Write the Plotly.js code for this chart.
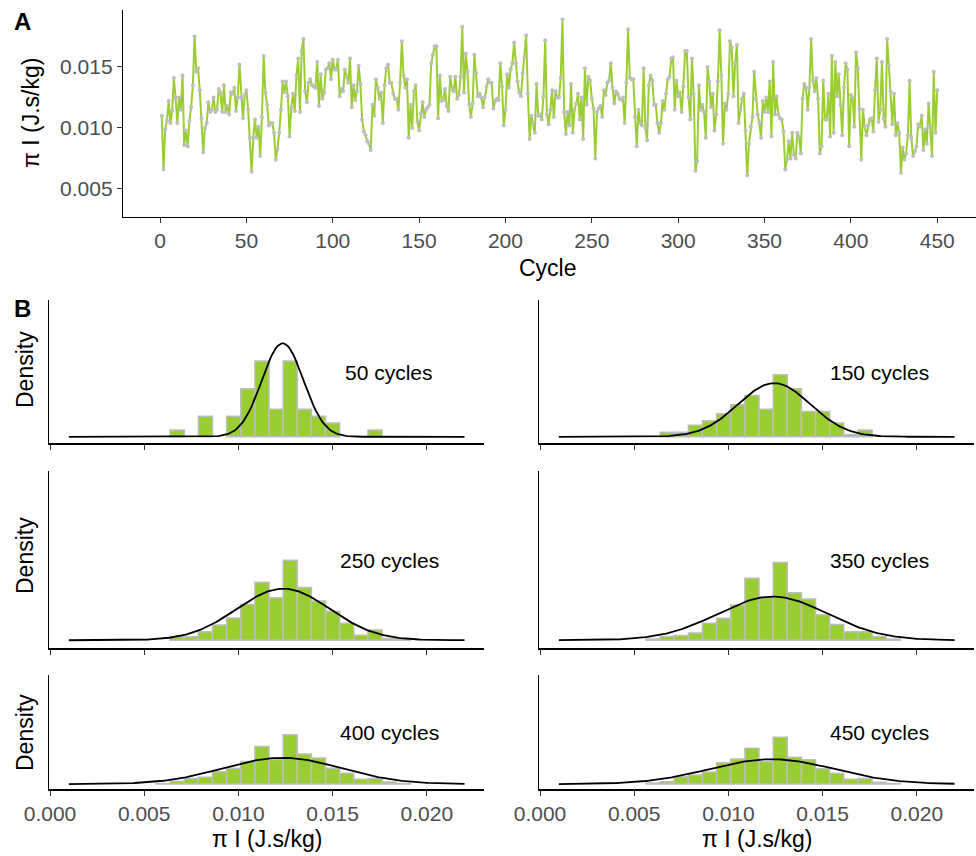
<!DOCTYPE html>
<html><head><meta charset="utf-8">
<script src="https://cdn.plot.ly/plotly-3.0.1.min.js"></script>
<style>html,body{margin:0;padding:0;background:#fff}</style>
</head><body><div id="chart" style="width:976px;height:856px"></div>
<script>
// Panel A: pi I (J.s/kg) for cycles 1..450
const piI = [
0.0110,0.0066,0.0099,0.0106,0.0122,0.0104,0.0114,0.0141,0.0125,0.0104,
0.0125,0.0115,0.0143,0.0086,0.0098,0.0085,0.0106,0.0117,0.0135,0.0175,
0.0146,0.0149,0.0131,0.0108,0.0080,0.0100,0.0104,0.0121,0.0113,0.0115,
0.0125,0.0113,0.0115,0.0132,0.0129,0.0113,0.0135,0.0113,0.0118,0.0111,
0.0129,0.0128,0.0133,0.0114,0.0125,0.0152,0.0125,0.0108,0.0127,0.0131,
0.0115,0.0092,0.0064,0.0092,0.0107,0.0092,0.0101,0.0077,0.0109,0.0159,
0.0129,0.0119,0.0102,0.0104,0.0104,0.0096,0.0074,0.0083,0.0096,0.0115,
0.0138,0.0129,0.0138,0.0126,0.0093,0.0117,0.0128,0.0114,0.0143,0.0157,
0.0113,0.0163,0.0173,0.0130,0.0121,0.0137,0.0140,0.0135,0.0134,0.0133,
0.0154,0.0118,0.0144,0.0124,0.0129,0.0148,0.0149,0.0153,0.0140,0.0156,
0.0148,0.0148,0.0156,0.0126,0.0132,0.0130,0.0148,0.0142,0.0137,0.0157,
0.0117,0.0135,0.0123,0.0130,0.0151,0.0136,0.0107,0.0097,0.0094,0.0089,
0.0087,0.0082,0.0119,0.0110,0.0140,0.0133,0.0124,0.0129,0.0104,0.0135,
0.0149,0.0152,0.0137,0.0137,0.0128,0.0124,0.0124,0.0115,0.0137,0.0171,
0.0143,0.0133,0.0140,0.0092,0.0119,0.0100,0.0130,0.0135,0.0105,0.0098,
0.0112,0.0121,0.0109,0.0115,0.0117,0.0119,0.0153,0.0160,0.0167,0.0167,
0.0108,0.0143,0.0122,0.0123,0.0132,0.0118,0.0114,0.0142,0.0132,0.0130,
0.0142,0.0124,0.0127,0.0142,0.0183,0.0129,0.0161,0.0146,0.0119,0.0109,
0.0120,0.0160,0.0145,0.0126,0.0128,0.0125,0.0117,0.0125,0.0134,0.0140,
0.0137,0.0137,0.0116,0.0122,0.0124,0.0123,0.0153,0.0134,0.0102,0.0115,
0.0144,0.0133,0.0148,0.0153,0.0170,0.0153,0.0138,0.0129,0.0126,0.0145,
0.0158,0.0176,0.0128,0.0091,0.0110,0.0104,0.0096,0.0136,0.0110,0.0111,
0.0107,0.0126,0.0172,0.0111,0.0103,0.0115,0.0131,0.0109,0.0130,0.0125,
0.0125,0.0141,0.0189,0.0113,0.0095,0.0113,0.0102,0.0136,0.0096,0.0115,
0.0120,0.0128,0.0107,0.0125,0.0091,0.0149,0.0119,0.0142,0.0139,0.0124,
0.0116,0.0075,0.0113,0.0116,0.0118,0.0109,0.0131,0.0127,0.0137,0.0139,
0.0153,0.0133,0.0120,0.0130,0.0128,0.0124,0.0123,0.0125,0.0104,0.0137,
0.0181,0.0141,0.0140,0.0140,0.0109,0.0085,0.0115,0.0104,0.0102,0.0149,
0.0100,0.0090,0.0135,0.0143,0.0139,0.0119,0.0119,0.0104,0.0096,0.0104,
0.0122,0.0115,0.0128,0.0140,0.0142,0.0157,0.0158,0.0115,0.0139,0.0126,
0.0129,0.0113,0.0134,0.0163,0.0163,0.0125,0.0107,0.0157,0.0128,0.0065,
0.0073,0.0135,0.0115,0.0119,0.0113,0.0092,0.0150,0.0138,0.0117,0.0128,
0.0098,0.0111,0.0138,0.0180,0.0143,0.0087,0.0120,0.0115,0.0128,0.0171,
0.0166,0.0126,0.0153,0.0168,0.0104,0.0115,0.0124,0.0128,0.0098,0.0061,
0.0087,0.0101,0.0109,0.0146,0.0124,0.0111,0.0104,0.0092,0.0122,0.0113,
0.0125,0.0113,0.0138,0.0093,0.0154,0.0111,0.0126,0.0111,0.0108,0.0107,
0.0097,0.0066,0.0074,0.0089,0.0075,0.0096,0.0078,0.0075,0.0096,0.0093,
0.0079,0.0124,0.0136,0.0133,0.0115,0.0133,0.0173,0.0139,0.0130,0.0141,
0.0124,0.0079,0.0085,0.0139,0.0107,0.0107,0.0128,0.0093,0.0159,0.0096,
0.0154,0.0126,0.0144,0.0119,0.0094,0.0133,0.0153,0.0148,0.0085,0.0127,
0.0125,0.0101,0.0162,0.0149,0.0116,0.0074,0.0115,0.0101,0.0094,0.0102,
0.0107,0.0108,0.0097,0.0131,0.0157,0.0105,0.0115,0.0154,0.0108,0.0101,
0.0173,0.0151,0.0130,0.0103,0.0128,0.0094,0.0104,0.0096,0.0063,0.0084,
0.0074,0.0079,0.0094,0.0139,0.0092,0.0077,0.0081,0.0085,0.0103,0.0101,
0.0110,0.0082,0.0099,0.0087,0.0120,0.0101,0.0077,0.0146,0.0096,0.0131
];
const cycles = piI.map((_, i) => i + 1);

// Panel B: histograms of the first N cycles with fitted normal curves
const panelCycles = [50, 150, 250, 350, 400, 450];
const panelLabels = ["50 cycles", "150 cycles", "250 cycles", "350 cycles", "400 cycles", "450 cycles"];
const curveMean = [0.01235, 0.01243, 0.01238, 0.01235, 0.01233, 0.01232];
const curveSd = [0.00110, 0.00192, 0.00247, 0.00292, 0.00312, 0.00330];
const curveFrom = 0.001, curveTo = 0.022;
const binWidth = 0.00075;
const axATicks = [0, 50, 100, 150, 200, 250, 300, 350, 400, 450];
const axAYTicks = [0.005, 0.010, 0.015];
const axBTicks = [0.000, 0.005, 0.010, 0.015, 0.020];

const W = 976, H = 856;
const px = v => v / W, py = v => 1 - v / H;
const GREEN = '#9ACD32', GREY = '#BEBEBE', TXT = '#4D4D4D';
const FONT = 'Liberation Sans, Arial, sans-serif';
const TICK = 21, TITLE = 23, LABEL = 21;

const traces = [];
traces.push({
  x: cycles, y: piI, type: 'scatter', mode: 'lines+markers',
  line: {color: GREEN, width: 2}, marker: {color: GREY, size: 4},
  xaxis: 'x', yaxis: 'y', hoverinfo: 'skip'
});

// panel placement: [column, row]
const place = [[0,0],[1,0],[0,1],[1,1],[0,2],[1,2]];
const colX = [[49.06, 484.3], [539.06, 974.3]];
const rowY = [[300, 443.3], [471, 648.3], [675, 789.3]];

const layout = {
  width: W, height: H, margin: {l: 0, r: 0, t: 0, b: 0},
  paper_bgcolor: '#fff', plot_bgcolor: '#fff', showlegend: false,
  bargap: 0, barmode: 'overlay', font: {family: FONT, color: TXT},
  xaxis: {domain: [px(123), 1], range: [-21.45, 472.45], tickvals: axATicks,
    ticks: 'outside', ticklen: 5, tickcolor: '#333', showline: true, linecolor: '#000', linewidth: 1.2,
    showgrid: false, zeroline: false, tickfont: {size: TICK, color: TXT}, anchor: 'y'},
  yaxis: {domain: [py(217), py(10)], range: [0.0027, 0.01967], tickvals: axAYTicks,
    ticktext: axAYTicks.map(v => v.toFixed(3)),
    ticks: 'outside', ticklen: 5, tickcolor: '#333', showline: true, linecolor: '#000', linewidth: 1.2,
    showgrid: false, zeroline: false, tickfont: {size: TICK, color: TXT}, anchor: 'x'},
  annotations: [], shapes: []
};

const nPts = 211;
panelCycles.forEach((N, i) => {
  const k = i + 2;
  const xa = 'x' + k, ya = 'y' + k;
  const [c, r] = place[i];
  const sub = piI.slice(0, N);
  traces.push({
    x: sub, type: 'histogram', histnorm: 'probability density',
    autobinx: false, xbins: {start: 0.005625, end: 0.019125, size: binWidth},
    marker: {color: GREEN, line: {color: GREY, width: 1.5}},
    xaxis: xa, yaxis: ya, hoverinfo: 'skip'
  });
  const cx = [], cy = [];
  for (let j = 0; j < nPts; j++) {
    const xv = curveFrom + (curveTo - curveFrom) * j / (nPts - 1);
    const z = (xv - curveMean[i]) / curveSd[i];
    cx.push(xv);
    cy.push(Math.exp(-0.5 * z * z) / (curveSd[i] * Math.sqrt(2 * Math.PI)));
  }
  traces.push({x: cx, y: cy, type: 'scatter', mode: 'lines', line: {color: '#000', width: 1.8},
    xaxis: xa, yaxis: ya, hoverinfo: 'skip'});
  const showLabels = r === 2;
  layout['xaxis' + k] = {
    domain: [px(colX[c][0]), px(colX[c][1])], range: [-0.00005, 0.02305],
    tickvals: axBTicks, ticktext: axBTicks.map(v => v.toFixed(3)), showticklabels: showLabels,
    ticks: 'outside', ticklen: 5, tickcolor: '#333', showline: true, linecolor: '#000', linewidth: 1.2,
    showgrid: false, zeroline: false, tickfont: {size: TICK, color: TXT}, anchor: ya
  };
  layout['yaxis' + k] = {
    domain: [py(rowY[r][1]), py(rowY[r][0])], range: [-25.25, 530.25],
    showticklabels: false, ticks: '', showline: true, linecolor: '#000', linewidth: 1.2,
    showgrid: false, zeroline: false, anchor: xa
  };
  layout.annotations.push({xref: xa, yref: ya, x: 0.0180, y: 250, text: panelLabels[i],
    showarrow: false, font: {size: LABEL, color: '#000'}, xanchor: 'center', yanchor: 'middle'});
});

const ann = (x, y, text, opts) => Object.assign({xref: 'paper', yref: 'paper', x: px(x), y: py(y), text,
  showarrow: false, xanchor: 'center', yanchor: 'middle', font: {size: TITLE, color: '#000'}}, opts || {});
layout.annotations.push(
  ann(22, 21, '<b>A</b>', {font: {size: 24, color: '#000'}}),
  ann(22, 308, '<b>B</b>', {font: {size: 24, color: '#000'}}),
  ann(31, 113, 'π I (J.s/kg)', {textangle: -90}),
  ann(548, 268, 'Cycle'),
  ann(25, 370, 'Density', {textangle: -90}),
  ann(25, 556, 'Density', {textangle: -90}),
  ann(25, 733, 'Density', {textangle: -90}),
  ann(267, 839, 'π I (J.s/kg)'),
  ann(757, 839, 'π I (J.s/kg)')
);

Plotly.newPlot('chart', traces, layout, {staticPlot: true});
</script></body></html>
